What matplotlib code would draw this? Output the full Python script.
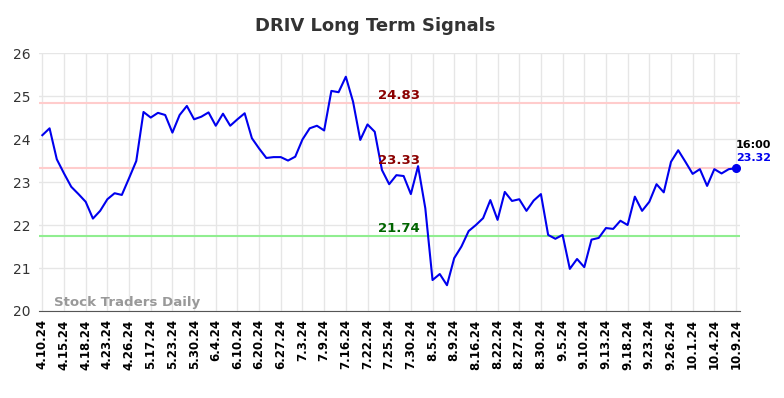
import numpy as np
import matplotlib
matplotlib.use("Agg")
import matplotlib.pyplot as plt

# closing prices (97 sessions, 4.10.24 .. 10.9.24)
prices = [
    24.09, 24.25, 23.53, 23.20, 22.89, 22.72, 22.54, 22.15, 22.33, 22.60,
    22.74, 22.70, 23.09, 23.49, 24.63, 24.50, 24.61, 24.56, 24.15, 24.56,
    24.77, 24.46, 24.52, 24.62, 24.31, 24.59, 24.31, 24.46, 24.60, 24.02,
    23.78, 23.56, 23.58, 23.58, 23.50, 23.59, 23.99, 24.25, 24.31, 24.20,
    25.12, 25.09, 25.45, 24.87, 23.98, 24.34, 24.17, 23.28, 22.95, 23.16,
    23.14, 22.72, 23.37, 22.39, 20.72, 20.86, 20.60, 21.23, 21.50, 21.86,
    22.00, 22.16, 22.58, 22.12, 22.77, 22.56, 22.60, 22.33, 22.57, 22.72,
    21.77, 21.68, 21.77, 20.98, 21.21, 21.02, 21.66, 21.70, 21.93, 21.91,
    22.10, 22.00, 22.66, 22.33, 22.54, 22.95, 22.76, 23.47, 23.74, 23.47,
    23.19, 23.30, 22.91, 23.30, 23.20, 23.30, 23.32,
]
tick_labels = [
    "4.10.24", "4.15.24", "4.18.24", "4.23.24", "4.26.24", "5.17.24", "5.23.24",
    "5.30.24", "6.4.24", "6.10.24", "6.20.24", "6.27.24", "7.3.24", "7.9.24",
    "7.16.24", "7.22.24", "7.25.24", "7.30.24", "8.5.24", "8.9.24", "8.16.24",
    "8.22.24", "8.27.24", "8.30.24", "9.5.24", "9.10.24", "9.13.24", "9.18.24",
    "9.23.24", "9.26.24", "10.1.24", "10.4.24", "10.9.24",
]
upper, middle, lower = 24.83, 23.33, 21.74
last_time = "16:00"

x = np.arange(len(prices))
tick_pos = x[::3]

fig = plt.figure(figsize=(7.84, 3.98), dpi=100)
ax = fig.add_axes([0.0494, 0.2186, 0.894, 0.648])

ax.axhline(upper, color="#ffcccc", lw=1.5, zorder=1)
ax.axhline(middle, color="#ffcccc", lw=1.5, zorder=1)
ax.axhline(lower, color="#90ee90", lw=1.5, zorder=1)
ax.plot(x, prices, color="#0000ee", lw=1.5, zorder=3)
ax.plot(x[-1], prices[-1], "o", color="#0000ee", ms=5.5, zorder=4)

lx = 49.3
ax.text(lx, upper + 0.03, f"{upper:.2f}", color="#8b0000", fontsize=9.5,
        fontweight="bold", ha="center", va="bottom")
ax.text(lx, middle + 0.03, f"{middle:.2f}", color="#8b0000", fontsize=9.5,
        fontweight="bold", ha="center", va="bottom")
ax.text(lx, lower + 0.03, f"{lower:.2f}", color="#006400", fontsize=9.5,
        fontweight="bold", ha="center", va="bottom")

ax.text(x[-1], prices[-1] + 0.42, last_time, color="black", fontsize=8,
        fontweight="bold", ha="left", va="bottom")
ax.text(x[-1], prices[-1] + 0.12, f"{prices[-1]:.2f}", color="#0000ee", fontsize=8,
        fontweight="bold", ha="left", va="bottom")

ax.text(1.6, 20.04, "Stock Traders Daily", color="#999999", fontsize=9.6,
        fontweight="bold", ha="left", va="bottom")

ax.set_xlim(-0.5, len(prices) - 0.5)
ax.set_ylim(20, 26)
ax.set_yticks(range(20, 27))
ax.set_xticks(tick_pos)
ax.set_xticklabels(tick_labels, rotation=90, fontsize=8.5, fontweight="bold")
ax.tick_params(axis="both", length=0, pad=6)
ax.tick_params(axis="y", labelsize=10, colors="#333333")
ax.grid(True, color="#e6e6e6", lw=1)
ax.set_axisbelow(True)
for s in ("top", "right", "left"):
    ax.spines[s].set_visible(False)
ax.spines["bottom"].set_color("#555555")

fig.text(0.478, 0.935, "DRIV Long Term Signals", ha="center", va="center",
         fontsize=13, fontweight="bold", color="#333333")

fig.savefig("out.png", dpi=100)
